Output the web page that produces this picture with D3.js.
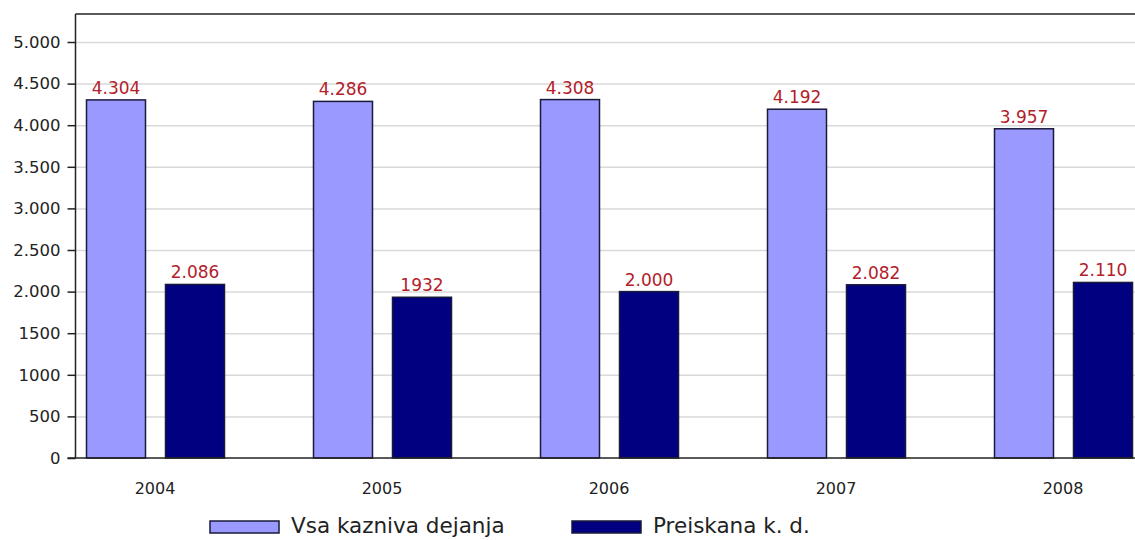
<!DOCTYPE html>
<html>
<head>
<meta charset="utf-8">
<script src="https://cdn.jsdelivr.net/npm/d3@7"></script>
<style>
  html, body { margin: 0; padding: 0; background: #fff; }
  svg { display: block; }
  text { font-family: "DejaVu Sans", Verdana, sans-serif; }
</style>
</head>
<body>
<svg id="chart" width="1135" height="540"></svg>
<script>
const years = ["2004", "2005", "2006", "2007", "2008"];
const seriesNames = ["Vsa kazniva dejanja", "Preiskana k. d."];
const allOffences = [4304, 4286, 4308, 4192, 3957];
const investigated = [2086, 1932, 2000, 2082, 2110];
const allOffencesLabels = ["4.304", "4.286", "4.308", "4.192", "3.957"];
const investigatedLabels = ["2.086", "1932", "2.000", "2.082", "2.110"];
const yTickValues = [0, 500, 1000, 1500, 2000, 2500, 3000, 3500, 4000, 4500, 5000];
const yTickLabels = ["0", "500", "1000", "1500", "2.000", "2.500", "3.000", "3.500", "4.000", "4.500", "5.000"];
const colors = ["#9999ff", "#000080"];

const svg = d3.select("#chart");
const W = 1135;
const axisX = 75.5, baseY = 458, topY = 14;

const y = d3.scaleLinear().domain([0, 5000]).range([baseY, 42]);
const topValue = y.invert(topY);

const x0 = d3.scaleBand().domain(years).range([41.5, 41.5 + 5 * 227])
  .paddingInner(89 / 227).paddingOuter(89 / 454);
const x1 = d3.scaleBand().domain(seriesNames).range([0, x0.bandwidth()])
  .paddingInner(20 / 79).paddingOuter(0);

// gridlines
svg.append("g").selectAll("line").data(yTickValues.filter(v => v > 0)).join("line")
  .attr("x1", axisX).attr("x2", W)
  .attr("y1", d => y(d) + 0.5).attr("y2", d => y(d) + 0.5)
  .attr("stroke", "#d9d9d9").attr("stroke-width", 1.5);

// top border
svg.append("line").attr("x1", axisX).attr("x2", W)
  .attr("y1", y(topValue)).attr("y2", y(topValue))
  .attr("stroke", "#222").attr("stroke-width", 1.5);

const data = years.map((yr, i) => ({
  year: yr,
  vals: [
    { s: seriesNames[0], v: allOffences[i], label: allOffencesLabels[i], c: colors[0] },
    { s: seriesNames[1], v: investigated[i], label: investigatedLabels[i], c: colors[1] }
  ]
}));

const groups = svg.append("g").selectAll("g").data(data).join("g")
  .attr("transform", d => `translate(${x0(d.year)},0)`);

groups.selectAll("rect").data(d => d.vals).join("rect")
  .attr("x", d => x1(d.s) + 0.5)
  .attr("y", d => y(d.v))
  .attr("width", x1.bandwidth())
  .attr("height", d => baseY - y(d.v))
  .attr("fill", d => d.c)
  .attr("stroke", "#1a1a3a").attr("stroke-width", 1.5);

groups.selectAll("text").data(d => d.vals).join("text")
  .attr("x", d => x1(d.s) + x1.bandwidth() / 2 + 0.5)
  .attr("y", d => y(d.v) - 6)
  .attr("text-anchor", "middle")
  .attr("font-size", 17)
  .attr("fill", "#b3202a")
  .text(d => d.label);

// y axis
const yAxis = d3.axisLeft(y).tickValues(yTickValues)
  .tickFormat((d, i) => yTickLabels[i]).tickSize(8).tickPadding(7);
const yg = svg.append("g").attr("transform", `translate(${axisX},0)`).call(yAxis);
yg.select(".domain").attr("d", `M0,${y(topValue)}V${baseY}`).attr("stroke", "#222").attr("stroke-width", 1.5);
yg.selectAll(".tick line").attr("stroke", "#222").attr("stroke-width", 1.5);
yg.selectAll(".tick text").attr("font-size", 16.5).attr("fill", "#222")
  .attr("font-family", "DejaVu Sans, sans-serif");

// x axis baseline
svg.append("line").attr("x1", axisX - 8).attr("x2", W)
  .attr("y1", baseY).attr("y2", baseY)
  .attr("stroke", "#222").attr("stroke-width", 1.5);

// x labels
const xg = svg.append("g").attr("transform", `translate(0,${baseY})`)
  .call(d3.axisBottom(x0).tickSize(0).tickPadding(0));
xg.select(".domain").remove();
xg.selectAll(".tick text").attr("dy", null).attr("y", 36)
  .attr("font-size", 16).attr("fill", "#222")
  .attr("font-family", "DejaVu Sans, sans-serif");

// legend
const legend = svg.append("g");
const legendX = [210, 572];
seriesNames.forEach((n, i) => {
  const g = legend.append("g").attr("transform", `translate(${legendX[i]},521)`);
  g.append("rect").attr("x", 0).attr("y", 0).attr("width", 69).attr("height", 12)
    .attr("fill", colors[i]).attr("stroke", "#1a1a3a").attr("stroke-width", 1.5);
  g.append("text").attr("x", 81).attr("y", 12).attr("font-size", 21.5)
    .attr("fill", "#222").text(n);
});
</script>
</body>
</html>
